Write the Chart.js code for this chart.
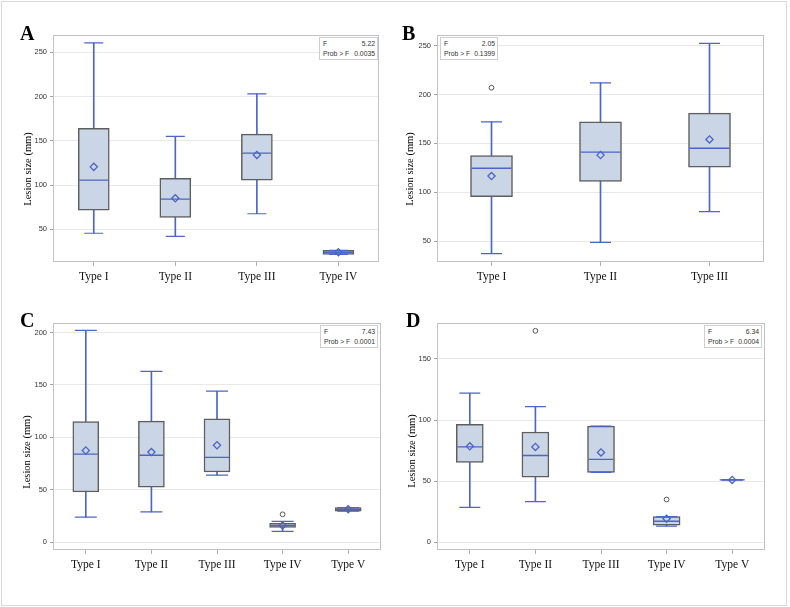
<!DOCTYPE html>
<html>
<head>
<meta charset="utf-8">
<script src="https://cdn.jsdelivr.net/npm/chart.js@4.4.1/dist/chart.umd.min.js"></script>
<style>
  body { margin: 0; background: #fff; }
  #wrap { position: relative; width: 790px; height: 607px; overflow: hidden; }
  #frame { position: absolute; left: 1px; top: 1px; width: 784px; height: 603px; border: 1px solid #d9d9d9; }
  canvas { position: absolute; }
  .letter { position: absolute; font: bold 20px "Liberation Serif", "Times New Roman", serif; color: #000; line-height: 1; }
  .ytitle { position: absolute; transform: translate(-50%, -50%) rotate(-90deg); white-space: nowrap;
            font: 10.5px "Liberation Serif", "Times New Roman", serif; color: #000; }
  .inset { position: absolute; border: 1px solid #cfcfcf; background: #fff; box-sizing: border-box;
           padding: 1px 2px 1px 3px; font: 6.8px "Liberation Sans", Arial, sans-serif; color: #333; line-height: 9.5px; }
  .inset div { display: flex; justify-content: space-between; }
</style>
</head>
<body>
<div id="wrap">
  <div id="frame"></div>
  <canvas id="chartA" width="395" height="300" style="left:0;top:0"></canvas>
  <canvas id="chartB" width="395" height="300" style="left:395px;top:0"></canvas>
  <canvas id="chartC" width="395" height="307" style="left:0;top:300px"></canvas>
  <canvas id="chartD" width="395" height="307" style="left:395px;top:300px"></canvas>

  <div class="letter" style="left:20px;top:23px">A</div>
  <div class="letter" style="left:402px;top:23px">B</div>
  <div class="letter" style="left:20px;top:310px">C</div>
  <div class="letter" style="left:406px;top:310px">D</div>

  <div class="ytitle" style="left:27px;top:169px">Lesion size (mm)</div>
  <div class="ytitle" style="left:409px;top:169px">Lesion size (mm)</div>
  <div class="ytitle" style="left:26px;top:452px">Lesion size (mm)</div>
  <div class="ytitle" style="left:411px;top:451px">Lesion size (mm)</div>

  <div class="inset" style="left:319px;top:37px;width:59px"><div><span>F</span><span>5.22</span></div><div><span>Prob &gt; F</span><span>0.0035</span></div></div>
  <div class="inset" style="left:440px;top:37px;width:58px"><div><span>F</span><span>2.05</span></div><div><span>Prob &gt; F</span><span>0.1399</span></div></div>
  <div class="inset" style="left:320px;top:325px;width:58px"><div><span>F</span><span>7.43</span></div><div><span>Prob &gt; F</span><span>0.0001</span></div></div>
  <div class="inset" style="left:704px;top:325px;width:58px"><div><span>F</span><span>6.34</span></div><div><span>Prob &gt; F</span><span>0.0004</span></div></div>
</div>

<script>
// Panel A
const catsA = ["Type I", "Type II", "Type III", "Type IV"];
const minA  = [45.5, 42, 67.5, 21.7];
const q1A   = [71.5, 63.5, 105.5, 21.7];
const medA  = [105.5, 84, 136, 24];
const q3A   = [164, 107.5, 157.5, 26.2];
const maxA  = [260.5, 155, 203, 26.2];
const meanA = [120.5, 85, 134, 24];
const outA  = [null, null, null, null];
const yTicksA = [50, 100, 150, 200, 250];

// Panel B
const catsB = ["Type I", "Type II", "Type III"];
const minB  = [37, 48.5, 80];
const q1B   = [95.5, 111, 125.5];
const medB  = [124.5, 141, 145];
const q3B   = [137.5, 172, 181];
const maxB  = [172, 212, 252.5];
const meanB = [116.5, 138, 154];
const outB  = [207, null, null];
const yTicksB = [50, 100, 150, 200, 250];

// Panel C
const catsC = ["Type I", "Type II", "Type III", "Type IV", "Type V"];
const minC  = [24, 29, 64, 10.5, 29.6];
const q1C   = [48, 52.5, 67, 14.2, 29.6];
const medC  = [84, 83, 81, 16, 31.3];
const q3C   = [115, 115.5, 117.7, 18, 33.2];
const maxC  = [202, 163, 144, 20, 33.2];
const meanC = [87.5, 86, 92.5, 16, 31.5];
const outC  = [null, null, null, 26.7, null];
const yTicksC = [0, 50, 100, 150, 200];

// Panel D
const catsD = ["Type I", "Type II", "Type III", "Type IV", "Type V"];
const minD  = [28.6, 33.3, 57.2, 13.3, 51];
const q1D   = [65.3, 53.3, 57.2, 14.1, 51];
const medD  = [78, 71, 67.8, 17.2, 51];
const q3D   = [96.5, 90.2, 95.1, 21, 51];
const maxD  = [122, 111, 95.1, 21, 51];
const meanD = [78.5, 78, 73.5, 19.3, 51];
const outD  = [null, 173, null, 35, null];
const yTicksD = [0, 50, 100, 150];

const BLUE = "#4d65c6";
const BOX_FILL = "#cad5e6";
const BOX_EDGE = "#5e5e5e";
const SANS = "'Liberation Sans', Arial, sans-serif";
const SERIF = "'Liberation Serif', 'Times New Roman', serif";

// draws the grey frame round the plot area
const framePlugin = {
  id: "frame",
  beforeDatasetsDraw(chart) {
    const a = chart.chartArea, ctx = chart.ctx;
    ctx.save();
    ctx.strokeStyle = "#c2c2c2";
    ctx.lineWidth = 1;
    ctx.strokeRect(Math.round(a.left) + 0.5, Math.round(a.top) + 0.5,
                   Math.round(a.right - a.left) - 1, Math.round(a.bottom - a.top) - 1);
    ctx.restore();
  }
};

function pointSet(data, style, radius, color, fill, width, order) {
  return {
    type: "line", data, showLine: false, order,
    pointStyle: style, pointRadius: radius, pointHoverRadius: radius,
    pointBorderColor: color, pointBackgroundColor: fill, pointBorderWidth: width
  };
}

function makeBoxChart(id, p) {
  const datasets = [
    { // whisker line
      type: "bar", order: 6, grouped: false,
      data: p.cats.map((_, i) => [p.min[i], p.max[i]]),
      barThickness: 1, backgroundColor: BLUE, borderWidth: 0
    },
    { // box
      type: "bar", order: 5, grouped: false,
      data: p.cats.map((_, i) => [p.q1[i], p.q3[i]]),
      barThickness: p.boxW, backgroundColor: BOX_FILL, borderColor: BOX_EDGE,
      borderWidth: 1.5, borderSkipped: false
    },
    pointSet(p.max, "line", p.capR, BLUE, BLUE, 1.2, 4),
    pointSet(p.min, "line", p.capR, BLUE, BLUE, 1.2, 4),
    pointSet(p.med, "line", p.boxW / 2 - 1, BLUE, BLUE, 1.3, 3),
    pointSet(p.mean, "rectRot", 3.6, BLUE, "rgba(0,0,0,0)", 1.3, 2),
    pointSet(p.out, "circle", 2.4, "#555", "rgba(0,0,0,0)", 1, 1)
  ];

  return new Chart(document.getElementById(id), {
    type: "bar",
    data: { labels: p.cats, datasets },
    plugins: [framePlugin],
    options: {
      responsive: false,
      animation: false,
      events: [],
      layout: { padding: { left: 0, right: p.padR, top: p.padT, bottom: 0 } },
      plugins: { legend: { display: false }, tooltip: { enabled: false } },
      scales: {
        x: {
          offset: true,
          grid: { offset: false, drawOnChartArea: false, tickLength: 4, tickColor: "#b0b0b0" },
          border: { display: false },
          ticks: { font: { family: SERIF, size: 11.5 }, color: "#111", padding: 4, maxRotation: 0 },
          afterFit: s => { s.height = p.xH; }
        },
        y: {
          min: p.yMin, max: p.yMax,
          grid: { color: "#e8e8e8", tickLength: 3, tickColor: "#a0a0a0" },
          border: { display: false },
          ticks: { font: { family: SANS, size: 7.5 }, color: "#333", padding: 3 },
          afterBuildTicks: s => { s.ticks = p.yTicks.map(v => ({ value: v })); },
          afterFit: s => { s.width = p.yW; }
        }
      }
    }
  });
}

makeBoxChart("chartA", {
  cats: catsA, min: minA, q1: q1A, med: medA, q3: q3A, max: maxA, mean: meanA, out: outA,
  yTicks: yTicksA, yMin: 13, yMax: 269.5, boxW: 31, capR: 9.5,
  yW: 53, padR: 15, padT: 35, xH: 38
});
makeBoxChart("chartB", {
  cats: catsB, min: minB, q1: q1B, med: medB, q3: q3B, max: maxB, mean: meanB, out: outB,
  yTicks: yTicksB, yMin: 28.5, yMax: 261, boxW: 42, capR: 10.5,
  yW: 42, padR: 26, padT: 35, xH: 38
});
makeBoxChart("chartC", {
  cats: catsC, min: minC, q1: q1C, med: medC, q3: q3C, max: maxC, mean: meanC, out: outC,
  yTicks: yTicksC, yMin: -7.3, yMax: 209, boxW: 26, capR: 11,
  yW: 53, padR: 14, padT: 23, xH: 57
});
makeBoxChart("chartD", {
  cats: catsD, min: minD, q1: q1D, med: medD, q3: q3D, max: maxD, mean: meanD, out: outD,
  yTicks: yTicksD, yMin: -6.3, yMax: 179.4, boxW: 27, capR: 10.5,
  yW: 42, padR: 25, padT: 23, xH: 57
});
</script>
</body>
</html>
